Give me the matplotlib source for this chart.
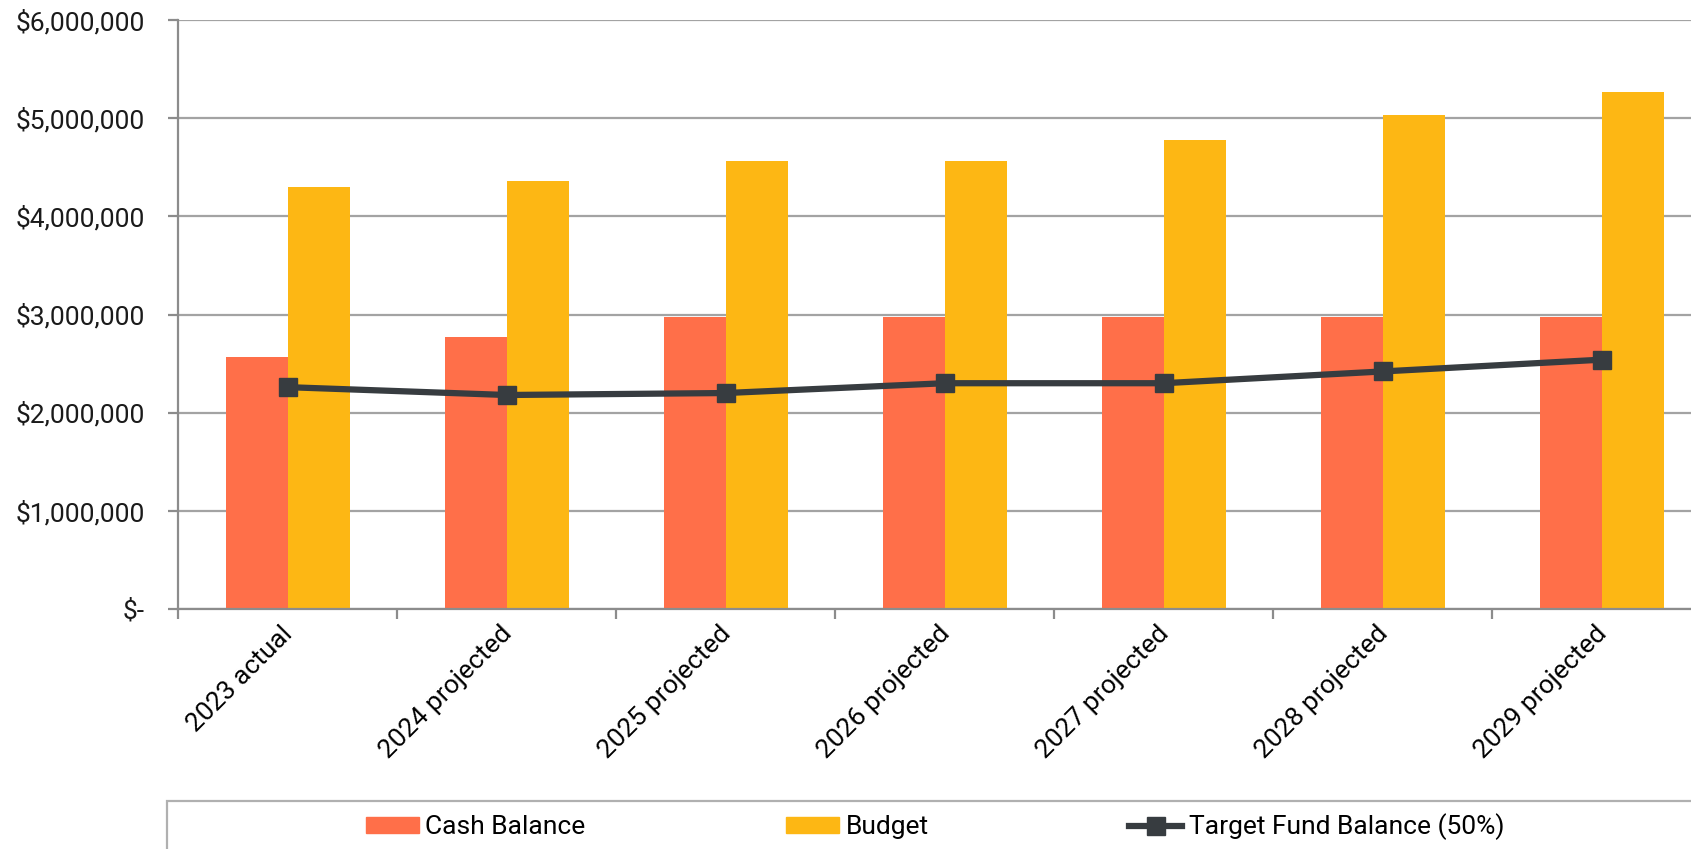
import matplotlib.pyplot as plt
import numpy as np
from matplotlib.patches import Rectangle
from matplotlib.lines import Line2D
from matplotlib.ticker import FuncFormatter, MultipleLocator
from matplotlib.transforms import ScaledTranslation

plt.rcParams['font.family'] = ['Roboto', 'DejaVu Sans']

# 年度、现金余额、预算和目标余额
years = ['2023 actual', '2024 projected', '2025 projected', '2026 projected',
         '2027 projected', '2028 projected', '2029 projected']
cash_balance = [2570000, 2770000, 2970000, 2970000, 2970000, 2970000, 2970000]
budget = [4300000, 4360000, 4560000, 4560000, 4780000, 5030000, 5270000]
target_balance = [2260000, 2180000, 2200000, 2300000, 2300000, 2420000, 2540000]

CASH_COLOR = '#FF6F49'
BUDGET_COLOR = '#FDB714'
LINE_COLOR = '#373C40'
GRID_COLOR = '#A3A3A3'
AXIS_COLOR = '#8C8C8C'
FS = 19

fig = plt.figure(figsize=(16.91, 8.49), dpi=100)
# 右侧故意超出画布，和原表格一样被裁掉一截
ax = fig.add_axes([0.1053, 0.2827, 0.9066, 0.6937])

x = np.arange(len(years))
w = 0.283
ax.bar(x - w / 2, cash_balance, width=w, color=CASH_COLOR, zorder=2,
       label='Cash Balance')
ax.bar(x + w / 2, budget, width=w, color=BUDGET_COLOR, zorder=2,
       label='Budget')
ax.plot(x, target_balance, color=LINE_COLOR, lw=4.5, marker='s', ms=13,
        zorder=3, label='Target Fund Balance (50%)')

ax.set_xlim(-0.5, len(years) - 0.5)
ax.set_ylim(0, 6000000)
ax.yaxis.set_major_locator(MultipleLocator(1000000))
ax.yaxis.set_major_formatter(
    FuncFormatter(lambda v, p: '$-' if v == 0 else f'${v:,.0f}'))
ax.grid(axis='y', color=GRID_COLOR, lw=1.6, zorder=0)
ax.set_axisbelow(True)

for s in ['top', 'right']:
    ax.spines[s].set_visible(False)
for s in ['left', 'bottom']:
    ax.spines[s].set_color(AXIS_COLOR)
    ax.spines[s].set_linewidth(1.6)

ax.tick_params(axis='y', length=7, width=1.6, color=AXIS_COLOR, pad=17,
               labelsize=FS, labelcolor='#1a1a1a')

# 类别边界处画刻度线，标签放在类别中心
ax.set_xticks(x)
ax.set_xticklabels(years, rotation=45, ha='right', va='top',
                   rotation_mode='anchor', fontsize=FS)
ax.set_xticks(np.arange(-0.5, len(years)), minor=True)
ax.tick_params(axis='x', which='major', length=0, pad=9)
ax.tick_params(axis='x', which='minor', length=7, width=1.6, color=AXIS_COLOR)
shift = ScaledTranslation(-7 / 100, 0, fig.dpi_scale_trans)
for lbl in ax.get_xticklabels():
    lbl.set_transform(lbl.get_transform() + shift)

# 图例外框
fig.patches.append(Rectangle((167 / 1691, -0.05), 1.0, 1 - 801 / 849 + 0.05,
                             transform=fig.transFigure, fill=False,
                             edgecolor='#B0B0B0', lw=1.6))

handles = [
    Rectangle((0, 0), 1, 1, color=CASH_COLOR),
    Rectangle((0, 0), 1, 1, color=BUDGET_COLOR),
    Line2D([], [], color=LINE_COLOR, lw=4.5, marker='s', ms=13),
]
labels = ['Cash Balance', 'Budget', 'Target Fund Balance (50%)']
fig.legend(handles, labels, loc='center', bbox_to_anchor=(0.553, 0.026),
           ncol=3, frameon=False, fontsize=FS, handlelength=2.0,
           handleheight=0.55, handletextpad=0.25, columnspacing=7.6)

fig.savefig('out.png', dpi=100)
